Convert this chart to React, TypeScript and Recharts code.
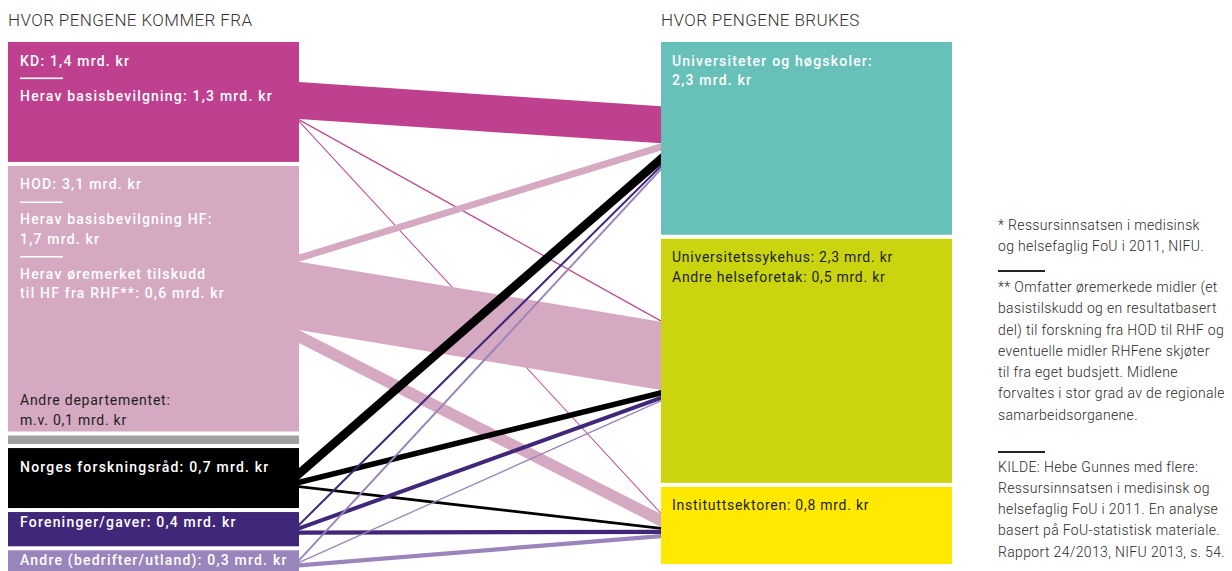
import React from "react";
import { Sankey } from "recharts";

const FONT = "Roboto, 'Open Sans', sans-serif";

// sources (left) and uses (right)
const sourceNames = ["KD", "HOD", "Andre departementet", "Norges forskningsråd", "Foreninger/gaver", "Andre (bedrifter/utland)"];
const targetNames = ["Universiteter og høgskoler", "Universitetssykehus og andre helseforetak", "Instituttsektoren"];

const sourceColors = ["#BE408E", "#D4A9C1", "#A0A0A0", "#000000", "#40277A", "#9A84BC"];
const targetColors = ["#67C1B8", "#CAD50F", "#FFE900"];

// "-" = short white rule between label lines
const sourceLabels: string[][] = [
  ["KD: 1,4 mrd. kr", "-", "Herav basisbevilgning: 1,3 mrd. kr"],
  ["HOD: 3,1 mrd. kr", "-", "Herav basisbevilgning HF:", "1,7 mrd. kr", "-", "Herav øremerket tilskudd", "til HF fra RHF**: 0,6 mrd. kr"],
  ["Andre departementet:", "m.v. 0,1 mrd. kr"],
  ["Norges forskningsråd: 0,7 mrd. kr"],
  ["Foreninger/gaver: 0,4 mrd. kr"],
  ["Andre (bedrifter/utland): 0,3 mrd. kr"],
];
const targetLabels: string[][] = [
  ["Universiteter og høgskoler:", "2,3 mrd. kr"],
  ["Universitetssykehus: 2,3 mrd. kr", "Andre helseforetak: 0,5 mrd. kr"],
  ["Instituttsektoren: 0,8 mrd. kr"],
];

const toUniversitet = [1.3, 0.25, 0.1, 0.4, 0.1, 0.1];
const toSykehus = [0.05, 2.4, 0, 0.2, 0.15, 0.05];
const toInstitutt = [0.05, 0.45, 0, 0.1, 0.15, 0.15];

const darkText = [false, false, true, false, false, false, false, true, true];
const hiddenSource = 2; // Andre departementet: no band drawn

const LINK_PX_PER_MRD = 28.5;

const nodes = [
  ...sourceNames.map((name, i) => ({ name, color: sourceColors[i], labels: sourceLabels[i], dark: darkText[i], side: "left" })),
  ...targetNames.map((name, i) => ({ name, color: targetColors[i], labels: targetLabels[i], dark: darkText[6 + i], side: "right" })),
];

const links: any[] = [];
sourceNames.forEach((_, s) => {
  [toUniversitet, toSykehus, toInstitutt].forEach((arr, t) => {
    if (arr[s] > 0) links.push({ source: s, target: 6 + t, value: arr[s], hidden: s === hiddenSource });
  });
});

const SankeyNode = (props: any) => {
  const { x, y, width, height, payload } = props;
  const fill = payload.dark ? "#1e1e1e" : "#ffffff";
  const tx = x + (payload.side === "left" ? 12 : 11);
  const textProps = {
    fill,
    fontSize: 14,
    fontFamily: FONT,
    fontWeight: payload.dark ? 400 : 500,
    letterSpacing: payload.dark ? 0.75 : 1.2,
  };
  const items: React.ReactNode[] = [];

  if (payload.name === "Andre departementet") {
    payload.labels.forEach((l: string, i: number) => {
      items.push(
        <text key={i} x={tx} y={y - 31 + i * 20} {...textProps}>
          {l}
        </text>
      );
    });
  } else if (height < 40) {
    items.push(
      <text key="t" x={tx} y={y + Math.min(height / 2 + 5, 15)} {...textProps}>
        {payload.labels[0]}
      </text>
    );
  } else {
    let cy = y + 23.5;
    let prev = "";
    payload.labels.forEach((l: string, i: number) => {
      if (i > 0) cy += l === "-" ? 13 : prev === "-" ? 22 : 19.5;
      if (l === "-") {
        items.push(<rect key={i} x={tx} y={cy - 1} width={43} height={1.6} fill={fill} />);
      } else {
        items.push(
          <text key={i} x={tx} y={cy} {...textProps}>
            {l}
          </text>
        );
      }
      prev = l;
    });
  }

  return (
    <g>
      <rect x={x} y={y} width={width} height={height} fill={payload.color} />
      {items}
    </g>
  );
};

// straight bands, squeezed to a compact bundle around each node's middle
const SankeyLink = (props: any) => {
  const { sourceX, targetX, sourceY, targetY, sourceRelativeY, targetRelativeY, linkWidth, payload } = props;
  if (payload.hidden) return <g />;
  const ky = linkWidth / payload.value;
  const f = LINK_PX_PER_MRD / ky;
  const src = payload.source;
  const tgt = payload.target;
  const sMid = sourceY - linkWidth / 2 - sourceRelativeY + src.dy / 2;
  const tMid = targetY - linkWidth / 2 - targetRelativeY + tgt.dy / 2;
  const sy = sMid + (sourceY - sMid) * f;
  const ty = tMid + (targetY - tMid) * f;
  const w = Math.max(linkWidth * f, 1);
  const pts = [
    [sourceX, sy - w / 2],
    [targetX, ty - w / 2],
    [targetX, ty + w / 2],
    [sourceX, sy + w / 2],
  ]
    .map((p) => p.join(","))
    .join(" ");
  return <polygon points={pts} fill={src.color} />;
};

const noteStyle: React.CSSProperties = {
  position: "absolute",
  left: 990,
  fontSize: 14,
  lineHeight: "21.3px",
  color: "#2a2a2a",
  fontWeight: 300,
  whiteSpace: "nowrap",
  letterSpacing: 0.35,
};

const titleStyle: React.CSSProperties = {
  position: "absolute",
  top: 2,
  fontSize: 17,
  lineHeight: "20px",
  color: "#333",
  fontWeight: 300,
  letterSpacing: 0.4,
};

export default function App() {
  return (
    <div style={{ position: "relative", width: 1224, height: 563, fontFamily: FONT, overflow: "hidden" }}>
      <div style={{ ...titleStyle, left: 0 }}>HVOR PENGENE KOMMER FRA</div>
      <div style={{ ...titleStyle, left: 653 }}>HVOR PENGENE BRUKES</div>

      <div style={{ position: "absolute", left: 0, top: 34 }}>
        <Sankey
          width={944}
          height={534}
          data={{ nodes, links }}
          node={SankeyNode}
          link={SankeyLink}
          nodeWidth={291}
          nodePadding={4}
          iterations={0}
          linkCurvature={0}
          margin={{ top: 0, right: 0, bottom: 0, left: 0 }}
        />
      </div>

      <div style={{ ...noteStyle, top: 207 }}>
        * Ressursinnsatsen i medisinsk
        <br />
        og helsefaglig FoU i 2011, NIFU.
      </div>
      <div style={{ position: "absolute", left: 990, top: 262, width: 47, height: 1.5, background: "#222" }} />
      <div style={{ ...noteStyle, top: 269 }}>
        ** Omfatter øremerkede midler (et
        <br />
        basistilskudd og en resultatbasert
        <br />
        del) til forskning fra HOD til RHF og
        <br />
        eventuelle midler RHFene skjøter
        <br />
        til fra eget budsjett. Midlene
        <br />
        forvaltes i stor grad av de regionale
        <br />
        samarbeidsorganene.
      </div>
      <div style={{ position: "absolute", left: 990, top: 443, width: 47, height: 1.5, background: "#222" }} />
      <div style={{ ...noteStyle, top: 448.5 }}>
        KILDE: Hebe Gunnes med flere:
        <br />
        Ressursinnsatsen i medisinsk og
        <br />
        helsefaglig FoU i 2011. En analyse
        <br />
        basert på FoU-statistisk materiale.
        <br />
        Rapport 24/2013, NIFU 2013, s. 54.
      </div>
    </div>
  );
}
